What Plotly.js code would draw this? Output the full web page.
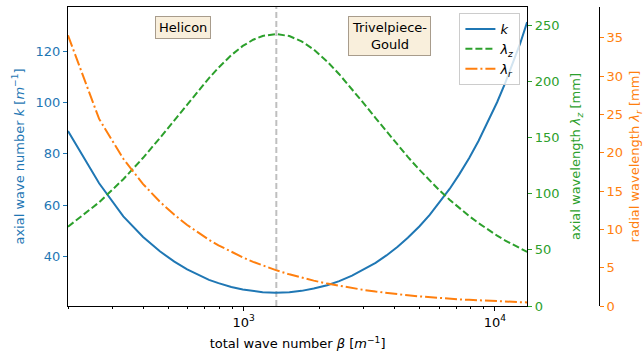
<!DOCTYPE html>
<html>
<head>
<meta charset="utf-8">
<script src="https://cdn.plot.ly/plotly-3.0.1.min.js"></script>
<style>html,body{margin:0;padding:0;background:#fff;}#chart{width:644px;height:355px;}</style>
</head>
<body>
<div id="chart"></div>
<script>
// total wave number beta [1/m]
const beta = [200, 266, 332, 398, 464, 530, 596, 662, 728, 794, 893, 992, 1091, 1190, 1343, 1520, 1700, 1900, 2150, 2400, 2700, 3000, 3350, 3700, 4100, 4500, 5000, 5500, 6000, 6600, 7200, 7900, 8600, 9400, 10200, 11000, 11800, 12600, 13430];
// axial wave number k [1/m]
const kVals = [88.9, 68.5, 55.6, 47.6, 42.0, 38.0, 34.95, 32.7, 30.9, 29.6, 28.1, 27.1, 26.5, 26.1, 25.9, 26.1, 26.6, 27.5, 28.8, 30.4, 32.5, 34.8, 37.5, 40.4, 43.8, 47.3, 51.7, 56.2, 60.8, 66.3, 71.9, 78.4, 85.0, 92.6, 100.1, 107.7, 115.4, 123.0, 131.3];
// axial wavelength lambda_z [mm]
const lambdaZ = [70.7, 92.4, 113.0, 132.1, 149.7, 165.6, 179.8, 192.3, 203.1, 212.4, 223.6, 231.8, 237.3, 240.7, 242.4, 240.6, 235.9, 228.6, 217.9, 206.6, 193.3, 180.8, 167.5, 155.5, 143.4, 132.9, 121.5, 111.7, 103.3, 94.7, 87.4, 80.1, 73.9, 67.9, 62.7, 58.3, 54.5, 51.1, 48.2];
// radial wavelength lambda_r [mm]
const lambdaR = [35.3, 24.4, 19.2, 15.9, 13.6, 11.9, 10.56, 9.50, 8.64, 7.92, 7.04, 6.34, 5.76, 5.28, 4.68, 4.13, 3.70, 3.31, 2.92, 2.62, 2.33, 2.10, 1.88, 1.70, 1.53, 1.40, 1.26, 1.14, 1.05, 0.95, 0.87, 0.80, 0.73, 0.67, 0.62, 0.57, 0.53, 0.50, 0.47];
// transition between regimes
const transitionBeta = 1349;
const xTickVals = [1000, 10000];
const xTickText = ['10<sup>3</sup>', '10<sup>4</sup>'];
const xMinorVals = [200, 300, 400, 500, 600, 700, 800, 900, 2000, 3000, 4000, 5000, 6000, 7000, 8000, 9000];
const regimeLabels = ['Helicon', 'Trivelpiece-<br>Gould'];

const blue = '#1f77b4', green = '#2ca02c', orange = '#ff7f0e';
const font = {family: 'DejaVu Sans', size: 13, color: '#000'};

const traces = [
  {x: beta, y: kVals, name: '<i>k</i>', type: 'scatter', mode: 'lines', line: {color: blue, width: 2}, yaxis: 'y'},
  {x: beta, y: lambdaZ, name: '<i>λ<sub>z</sub></i>', type: 'scatter', mode: 'lines', line: {color: green, width: 2, dash: '7px,3px'}, yaxis: 'y2'},
  {x: beta, y: lambdaR, name: '<i>λ<sub>r</sub></i>', type: 'scatter', mode: 'lines', line: {color: orange, width: 2, dash: '12px,3px,2px,3px'}, yaxis: 'y3'}
];

const layout = {
  width: 644, height: 355,
  margin: {l: 68, r: 45, t: 7, b: 49},
  paper_bgcolor: '#fff', plot_bgcolor: '#fff',
  font: font,
  showlegend: true,
  legend: {x: 0.852, xanchor: 'right', y: 0.98, yanchor: 'top', bgcolor: 'rgba(255,255,255,0.8)', bordercolor: '#cccccc', borderwidth: 1, font: {family: 'DejaVu Sans', size: 13}},
  xaxis: {
    type: 'log', domain: [0, 460/532],
    range: [Math.log10(200), Math.log10(13430)],
    tickmode: 'array', tickvals: xTickVals, ticktext: xTickText,
    ticks: 'outside', ticklen: 4, tickcolor: '#000',
    minor: {tickmode: 'array', tickvals: xMinorVals, ticks: 'outside', ticklen: 2, tickcolor: '#000'},
    showline: true, mirror: true, linecolor: '#000', linewidth: 1,
    showgrid: false, zeroline: false,
    title: {text: 'total wave number <i>β</i> [<i>m</i><sup>−1</sup>]', font: {family: 'DejaVu Sans', size: 13, color: '#000'}, standoff: 10},
    automargin: false
  },
  yaxis: {
    range: [20.7, 137.2],
    tickmode: 'array', tickvals: [40, 60, 80, 100, 120],
    ticks: 'outside', ticklen: 4, tickcolor: blue,
    tickfont: {family: 'DejaVu Sans', size: 13, color: blue},
    showline: true, linecolor: '#000', linewidth: 1,
    showgrid: false, zeroline: false,
    title: {text: 'axial wave number <i>k</i> [<i>m</i><sup>−1</sup>]', font: {family: 'DejaVu Sans', size: 13, color: blue}, standoff: 8},
    automargin: false
  },
  yaxis2: {
    overlaying: 'y', side: 'right', anchor: 'x',
    range: [0, 266.5],
    tickmode: 'array', tickvals: [0, 50, 100, 150, 200, 250],
    ticks: 'outside', ticklen: 4, tickcolor: green,
    tickfont: {family: 'DejaVu Sans', size: 13, color: green},
    showline: true, linecolor: '#000', linewidth: 1,
    showgrid: false, zeroline: false,
    title: {text: 'axial wavelength <i>λ<sub>z</sub></i> [mm]', font: {family: 'DejaVu Sans', size: 13, color: green}, standoff: 12},
    automargin: false
  },
  yaxis3: {
    overlaying: 'y', side: 'right', anchor: 'free', position: 1,
    range: [0, 39.0],
    tickmode: 'array', tickvals: [0, 5, 10, 15, 20, 25, 30, 35],
    ticks: 'outside', ticklen: 4, tickcolor: orange,
    tickfont: {family: 'DejaVu Sans', size: 13, color: orange},
    showline: true, linecolor: '#000', linewidth: 1,
    showgrid: false, zeroline: false,
    title: {text: 'radial wavelength <i>λ<sub>r</sub></i> [mm]', font: {family: 'DejaVu Sans', size: 13, color: orange}, standoff: 10},
    automargin: false
  },
  shapes: [
    {type: 'line', xref: 'x', yref: 'paper', x0: transitionBeta, x1: transitionBeta, y0: 0, y1: 1, line: {color: '#bfbfbf', width: 2, dash: '6px,3px'}, layer: 'below'}
  ],
  annotations: [
    {text: regimeLabels[0], xref: 'paper', yref: 'paper', x: 0.2162, y: 0.93, xanchor: 'center', yanchor: 'middle', showarrow: false, font: font, bgcolor: '#f9efdc', bordercolor: '#a89c8c', borderwidth: 1, borderpad: 3},
    {text: regimeLabels[1], xref: 'paper', yref: 'paper', x: 0.6053, y: 0.903, xanchor: 'center', yanchor: 'middle', showarrow: false, font: font, bgcolor: '#f9efdc', bordercolor: '#a89c8c', borderwidth: 1, borderpad: 3, align: 'center'}
  ]
};

Plotly.newPlot('chart', traces, layout, {displayModeBar: false, staticPlot: true});
</script>
</body>
</html>
